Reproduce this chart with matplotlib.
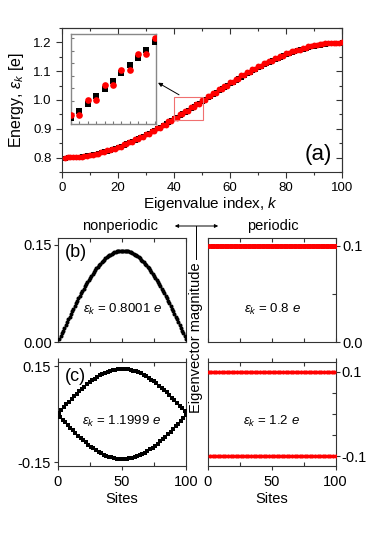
import numpy as np
import matplotlib
matplotlib.use("Agg")
import matplotlib.pyplot as plt
from matplotlib.patches import Rectangle, FancyArrowPatch
from matplotlib.lines import Line2D
from matplotlib.ticker import MultipleLocator, FixedLocator

plt.rcParams["font.family"] = ["Liberation Sans", "DejaVu Sans"]
plt.rcParams["mathtext.fontset"] = "custom"
plt.rcParams["mathtext.it"] = "Liberation Sans:italic"
plt.rcParams["mathtext.rm"] = "Liberation Sans"

# eigenvalue index k and lattice sites
k_index = list(range(1, 101))
sites = list(range(1, 101))

# energies, nonperiodic chain (black squares)
energy_nonper = [
    0.8001, 0.8004, 0.8009, 0.8015, 0.8024, 0.8035, 0.8047, 0.8062, 0.8078, 0.8096,
    0.8116, 0.8138, 0.8161, 0.8187, 0.8214, 0.8243, 0.8273, 0.8305, 0.8339, 0.8375,
    0.8412, 0.8450, 0.8490, 0.8532, 0.8575, 0.8619, 0.8665, 0.8712, 0.8760, 0.8809,
    0.8860, 0.8912, 0.8964, 0.9018, 0.9073, 0.9128, 0.9185, 0.9242, 0.9300, 0.9358,
    0.9418, 0.9477, 0.9538, 0.9598, 0.9660, 0.9721, 0.9783, 0.9845, 0.9907, 0.9969,
    1.0031, 1.0093, 1.0155, 1.0217, 1.0279, 1.0340, 1.0402, 1.0462, 1.0523, 1.0582,
    1.0642, 1.0700, 1.0758, 1.0815, 1.0872, 1.0927, 1.0982, 1.1036, 1.1088, 1.1140,
    1.1191, 1.1240, 1.1288, 1.1335, 1.1381, 1.1425, 1.1468, 1.1510, 1.1550, 1.1588,
    1.1625, 1.1661, 1.1695, 1.1727, 1.1757, 1.1786, 1.1813, 1.1839, 1.1862, 1.1884,
    1.1904, 1.1922, 1.1938, 1.1953, 1.1965, 1.1976, 1.1985, 1.1991, 1.1996, 1.1999,
]

# energies, periodic ring (red circles), pairwise degenerate
energy_per = [
    0.8000, 0.8004, 0.8004, 0.8016, 0.8016, 0.8035, 0.8035, 0.8063, 0.8063, 0.8098,
    0.8098, 0.8140, 0.8140, 0.8190, 0.8190, 0.8247, 0.8247, 0.8311, 0.8311, 0.8382,
    0.8382, 0.8459, 0.8459, 0.8542, 0.8542, 0.8631, 0.8631, 0.8725, 0.8725, 0.8824,
    0.8824, 0.8928, 0.8928, 0.9036, 0.9036, 0.9148, 0.9148, 0.9264, 0.9264, 0.9382,
    0.9382, 0.9503, 0.9503, 0.9625, 0.9625, 0.9749, 0.9749, 0.9874, 0.9874, 1.0000,
    1.0000, 1.0126, 1.0126, 1.0251, 1.0251, 1.0375, 1.0375, 1.0497, 1.0497, 1.0618,
    1.0618, 1.0736, 1.0736, 1.0852, 1.0852, 1.0964, 1.0964, 1.1072, 1.1072, 1.1176,
    1.1176, 1.1275, 1.1275, 1.1369, 1.1369, 1.1458, 1.1458, 1.1541, 1.1541, 1.1618,
    1.1618, 1.1689, 1.1689, 1.1753, 1.1753, 1.1810, 1.1810, 1.1860, 1.1860, 1.1902,
    1.1902, 1.1937, 1.1937, 1.1965, 1.1965, 1.1984, 1.1984, 1.1996, 1.1996, 1.2000,
]

# (b) lowest state, nonperiodic
psi_low_nonper = [
    0.0044, 0.0087, 0.0131, 0.0175, 0.0218, 0.0261, 0.0304, 0.0347, 0.0389, 0.0431,
    0.0472, 0.0513, 0.0554, 0.0594, 0.0633, 0.0672, 0.0710, 0.0747, 0.0784, 0.0820,
    0.0855, 0.0890, 0.0923, 0.0956, 0.0987, 0.1018, 0.1048, 0.1076, 0.1104, 0.1131,
    0.1156, 0.1181, 0.1204, 0.1226, 0.1247, 0.1266, 0.1285, 0.1302, 0.1318, 0.1333,
    0.1346, 0.1358, 0.1369, 0.1379, 0.1387, 0.1393, 0.1399, 0.1403, 0.1406, 0.1407,
    0.1407, 0.1406, 0.1403, 0.1399, 0.1393, 0.1387, 0.1379, 0.1369, 0.1358, 0.1346,
    0.1333, 0.1318, 0.1302, 0.1285, 0.1266, 0.1247, 0.1226, 0.1204, 0.1181, 0.1156,
    0.1131, 0.1104, 0.1076, 0.1048, 0.1018, 0.0987, 0.0956, 0.0923, 0.0890, 0.0855,
    0.0820, 0.0784, 0.0747, 0.0710, 0.0672, 0.0633, 0.0594, 0.0554, 0.0513, 0.0472,
    0.0431, 0.0389, 0.0347, 0.0304, 0.0261, 0.0218, 0.0175, 0.0131, 0.0087, 0.0044,
]

# (b) lowest state, periodic
psi_low_per = [
    0.1, 0.1, 0.1, 0.1, 0.1, 0.1, 0.1, 0.1, 0.1, 0.1,
    0.1, 0.1, 0.1, 0.1, 0.1, 0.1, 0.1, 0.1, 0.1, 0.1,
    0.1, 0.1, 0.1, 0.1, 0.1, 0.1, 0.1, 0.1, 0.1, 0.1,
    0.1, 0.1, 0.1, 0.1, 0.1, 0.1, 0.1, 0.1, 0.1, 0.1,
    0.1, 0.1, 0.1, 0.1, 0.1, 0.1, 0.1, 0.1, 0.1, 0.1,
    0.1, 0.1, 0.1, 0.1, 0.1, 0.1, 0.1, 0.1, 0.1, 0.1,
    0.1, 0.1, 0.1, 0.1, 0.1, 0.1, 0.1, 0.1, 0.1, 0.1,
    0.1, 0.1, 0.1, 0.1, 0.1, 0.1, 0.1, 0.1, 0.1, 0.1,
    0.1, 0.1, 0.1, 0.1, 0.1, 0.1, 0.1, 0.1, 0.1, 0.1,
    0.1, 0.1, 0.1, 0.1, 0.1, 0.1, 0.1, 0.1, 0.1, 0.1,
]

# (c) highest state, nonperiodic
psi_high_nonper = [
    0.0044, -0.0087, 0.0131, -0.0175, 0.0218, -0.0261, 0.0304, -0.0347, 0.0389, -0.0431,
    0.0472, -0.0513, 0.0554, -0.0594, 0.0633, -0.0672, 0.0710, -0.0747, 0.0784, -0.0820,
    0.0855, -0.0890, 0.0923, -0.0956, 0.0987, -0.1018, 0.1048, -0.1076, 0.1104, -0.1131,
    0.1156, -0.1181, 0.1204, -0.1226, 0.1247, -0.1266, 0.1285, -0.1302, 0.1318, -0.1333,
    0.1346, -0.1358, 0.1369, -0.1379, 0.1387, -0.1393, 0.1399, -0.1403, 0.1406, -0.1407,
    0.1407, -0.1406, 0.1403, -0.1399, 0.1393, -0.1387, 0.1379, -0.1369, 0.1358, -0.1346,
    0.1333, -0.1318, 0.1302, -0.1285, 0.1266, -0.1247, 0.1226, -0.1204, 0.1181, -0.1156,
    0.1131, -0.1104, 0.1076, -0.1048, 0.1018, -0.0987, 0.0956, -0.0923, 0.0890, -0.0855,
    0.0820, -0.0784, 0.0747, -0.0710, 0.0672, -0.0633, 0.0594, -0.0554, 0.0513, -0.0472,
    0.0431, -0.0389, 0.0347, -0.0304, 0.0261, -0.0218, 0.0175, -0.0131, 0.0087, -0.0044,
]

# (c) highest state, periodic
psi_high_per = [
    0.1, -0.1, 0.1, -0.1, 0.1, -0.1, 0.1, -0.1, 0.1, -0.1,
    0.1, -0.1, 0.1, -0.1, 0.1, -0.1, 0.1, -0.1, 0.1, -0.1,
    0.1, -0.1, 0.1, -0.1, 0.1, -0.1, 0.1, -0.1, 0.1, -0.1,
    0.1, -0.1, 0.1, -0.1, 0.1, -0.1, 0.1, -0.1, 0.1, -0.1,
    0.1, -0.1, 0.1, -0.1, 0.1, -0.1, 0.1, -0.1, 0.1, -0.1,
    0.1, -0.1, 0.1, -0.1, 0.1, -0.1, 0.1, -0.1, 0.1, -0.1,
    0.1, -0.1, 0.1, -0.1, 0.1, -0.1, 0.1, -0.1, 0.1, -0.1,
    0.1, -0.1, 0.1, -0.1, 0.1, -0.1, 0.1, -0.1, 0.1, -0.1,
    0.1, -0.1, 0.1, -0.1, 0.1, -0.1, 0.1, -0.1, 0.1, -0.1,
    0.1, -0.1, 0.1, -0.1, 0.1, -0.1, 0.1, -0.1, 0.1, -0.1,
]

W, H = 382, 549
SPINE = "#333333"


def box(l, t, r, b):
    return [l / W, 1 - b / H, (r - l) / W, (b - t) / H]


def style(ax, lw=0.8):
    for s in ax.spines.values():
        s.set_linewidth(lw)
        s.set_color(SPINE)
    ax.tick_params(which="both", colors=SPINE, labelcolor="black", width=0.8)


fig = plt.figure(figsize=(W / 100, H / 100), dpi=100)

# ---------- (a) energy spectrum ----------
ax = fig.add_axes(box(62, 28, 342, 172))
ax.plot(k_index, energy_nonper, "s", color="black", ms=3.6, mew=0, zorder=3)
ax.plot(k_index, energy_per, "o", color="red", ms=4.2, mew=0, zorder=4)
ax.set_xlim(0, 100)
ax.set_ylim(0.75, 1.25)
ax.set_xticks([0, 20, 40, 60, 80, 100])
ax.set_yticks([0.8, 0.9, 1.0, 1.1, 1.2])
ax.set_yticklabels(["0.8", "0.9", "1.0", "1.1", "1.2"])
ax.xaxis.set_minor_locator(MultipleLocator(10))
ax.yaxis.set_minor_locator(MultipleLocator(0.05))
ax.tick_params(which="both", direction="out", labelsize=9.5)
ax.tick_params(which="major", length=4)
ax.tick_params(which="minor", length=2.5)
style(ax)
# mirrored inward ticks on top / right
sx = ax.secondary_xaxis("top")
sx.set_xticks([0, 20, 40, 60, 80, 100])
sx.xaxis.set_minor_locator(MultipleLocator(10))
sx.tick_params(which="both", direction="in", labeltop=False, width=0.8,
               colors=SPINE)
sx.tick_params(which="major", length=4)
sx.tick_params(which="minor", length=2.5)
sy = ax.secondary_yaxis("right")
sy.set_yticks([0.8, 0.9, 1.0, 1.1, 1.2])
sy.yaxis.set_minor_locator(MultipleLocator(0.05))
sy.tick_params(which="both", direction="in", labelright=False, width=0.8,
               colors=SPINE)
sy.tick_params(which="major", length=4)
sy.tick_params(which="minor", length=2.5)
for s in list(sx.spines.values()) + list(sy.spines.values()):
    s.set_linewidth(0.8)
    s.set_color(SPINE)

ax.set_ylabel(r"Energy, $\varepsilon_k$ [e]", fontsize=11.5, labelpad=5)
ax.text(0.915, 0.12, "(a)", transform=ax.transAxes, fontsize=16,
        ha="center", va="center")
ax.add_patch(Rectangle((40, 0.93), 10.4, 0.08, fill=False,
                       edgecolor="#f07070", lw=0.8, zorder=5))
ax.annotate("", xy=(34.3, 1.06), xytext=(41.8, 1.018),
            arrowprops=dict(arrowstyle="-|>", color="black", lw=0.7,
                            mutation_scale=6, shrinkA=0, shrinkB=0))
fig.text(210 / W, 1 - 204 / H, r"Eigenvalue index, $k$", fontsize=11,
         ha="center", va="center")

# inset
axi = fig.add_axes(box(70.7, 34, 155.7, 124))
axi.plot(k_index, energy_nonper, "s", color="black", ms=4.4, mew=0, zorder=3)
axi.plot(k_index, energy_per, "o", color="red", ms=4.8, mew=0, zorder=4)
axi.set_xlim(39.95, 50.12)
axi.set_ylim(0.9313, 1.0036)
axi.xaxis.set_major_locator(MultipleLocator(1))
axi.yaxis.set_major_locator(MultipleLocator(0.01))
axi.tick_params(direction="in", length=2, labelbottom=False,
                labelleft=False, colors="#777777")
for s in axi.spines.values():
    s.set_color("#888888")
    s.set_linewidth(1.0)

# ---------- middle labels ----------
fig.text(120 / W, 1 - 226 / H, "nonperiodic", fontsize=10.5,
         ha="center", va="center")
fig.text(273 / W, 1 - 226 / H, "periodic", fontsize=10.5,
         ha="center", va="center")
fig.add_artist(FancyArrowPatch(
    (172 / W, 1 - 226 / H), (221 / W, 1 - 226 / H),
    transform=fig.transFigure, arrowstyle="<|-|>", mutation_scale=5,
    lw=0.7, color="black"))
fig.add_artist(Line2D([196 / W, 196 / W], [1 - 226 / H, 1 - 259 / H],
                      transform=fig.transFigure, lw=0.7, color="black"))
fig.text(196 / W, 1 - 338 / H, "Eigenvector magnitude", fontsize=10.5,
         rotation=90, ha="center", va="center")


def eig_panel(rect, x, y, color, ms, marker, ylim, side):
    a = fig.add_axes(box(*rect))
    a.plot(x, y, marker, color=color, ms=ms, mew=0, zorder=3)
    a.set_xlim(0, 100)
    a.set_ylim(*ylim)
    a.xaxis.set_major_locator(FixedLocator([0, 50, 100]))
    a.xaxis.set_minor_locator(FixedLocator([25, 75]))
    a.tick_params(which="both", direction="in", top=True,
                  labelsize=10.5, length=3)
    if side == "right":
        a.yaxis.tick_right()
        a.yaxis.set_label_position("right")
    a.tick_params(axis="y", which="major", direction="out", length=3,
                  pad=1.5)
    a.tick_params(axis="y", which="minor", direction="in", length=3)
    style(a)
    return a


# (b) left
a = eig_panel((58, 238, 186, 342), sites, psi_low_nonper, "black", 2.9,
              "o", (0, 0.16), "left")
a.set_yticks([0, 0.15])
a.set_yticklabels(["0.00", "0.15"])
a.tick_params(labelbottom=False)
a.text(0.14, 0.86, "(b)", transform=a.transAxes, fontsize=13,
       ha="center", va="center")
a.text(0.5, 0.31, r"$\varepsilon_k$ = 0.8001 $e$", transform=a.transAxes,
       fontsize=9.5, ha="center", va="center")

# (b) right
a = eig_panel((208, 238, 336, 342), sites, psi_low_per, "red", 3.6, "o",
              (0, 0.108), "right")
a.set_yticks([0, 0.1])
a.set_yticklabels(["0.0", "0.1"])
a.yaxis.set_minor_locator(FixedLocator([0.05]))
a.tick_params(labelbottom=False)
a.text(0.5, 0.31, r"$\varepsilon_k$ = 0.8 $e$", transform=a.transAxes,
       fontsize=9.5, ha="center", va="center")

# (c) left
a = eig_panel((57.5, 362, 186, 466), sites, psi_high_nonper, "black", 2.2,
              "s", (-0.1625, 0.1625), "left")
a.set_yticks([-0.15, 0.15])
a.set_yticklabels(["-0.15", "0.15"])
a.tick_params(axis="x", which="major", direction="out")
a.set_xlabel("Sites", fontsize=10.5, labelpad=2)
a.text(0.14, 0.86, "(c)", transform=a.transAxes, fontsize=13,
       ha="center", va="center")
a.text(0.5, 0.43, r"$\varepsilon_k$ = 1.1999 $e$", transform=a.transAxes,
       fontsize=9.5, ha="center", va="center")

# (c) right
a = eig_panel((207.5, 362, 335.5, 466), sites, psi_high_per, "red", 3.0, "o",
              (-0.123, 0.123), "right")
a.set_yticks([-0.1, 0.1])
a.set_yticklabels(["-0.1", "0.1"])
a.yaxis.set_minor_locator(FixedLocator([-0.05, 0, 0.05]))
a.tick_params(axis="x", which="major", direction="out")
a.set_xlabel("Sites", fontsize=10.5, labelpad=2)
a.text(0.5, 0.43, r"$\varepsilon_k$ = 1.2 $e$", transform=a.transAxes,
       fontsize=9.5, ha="center", va="center")

fig.savefig("out.png", dpi=100)
